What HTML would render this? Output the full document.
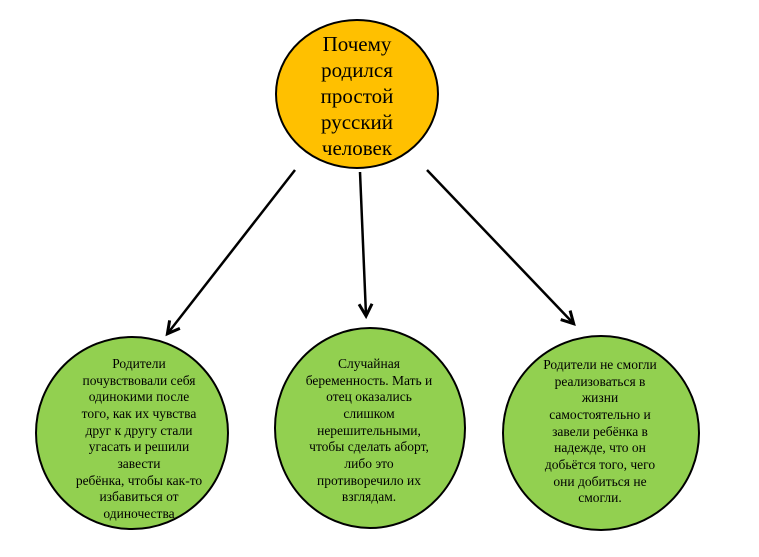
<!DOCTYPE html>
<html><head><meta charset="utf-8"><style>
html,body{margin:0;padding:0;background:#fff;}
svg{display:block;}
text{font-family:"Liberation Serif",serif;fill:#000;}
</style></head><body>
<svg width="759" height="557" viewBox="0 0 759 557" xmlns="http://www.w3.org/2000/svg">
<defs><marker id="a" markerWidth="16" markerHeight="16" refX="12" refY="8" orient="auto" markerUnits="userSpaceOnUse"><path d="M1,1.5 L13,8 L1,14.5" fill="none" stroke="#000" stroke-width="3"/></marker></defs>
<ellipse cx="357" cy="94" rx="81" ry="74" fill="#FFC000" stroke="#000" stroke-width="2"/>
<g font-size="21" text-anchor="middle">
<text x="357" y="51">Почему</text>
<text x="357" y="77">родился</text>
<text x="357" y="103">простой</text>
<text x="357" y="129">русский</text>
<text x="357" y="155">человек</text>
</g>
<line x1="295" y1="170" x2="168" y2="333" stroke="#000" stroke-width="2.5" marker-end="url(#a)"/>
<line x1="360" y1="172" x2="366" y2="315" stroke="#000" stroke-width="2.5" marker-end="url(#a)"/>
<line x1="427" y1="170" x2="573" y2="323" stroke="#000" stroke-width="2.5" marker-end="url(#a)"/>
<ellipse cx="132" cy="433" rx="96" ry="96" fill="#92D050" stroke="#000" stroke-width="2"/>
<ellipse cx="370" cy="428" rx="95" ry="100" fill="#92D050" stroke="#000" stroke-width="2"/>
<ellipse cx="601" cy="433" rx="98" ry="97" fill="#92D050" stroke="#000" stroke-width="2"/>
<g font-size="13.5" text-anchor="middle">
<text x="139" y="368">Родители</text>
<text x="139" y="385">почувствовали себя</text>
<text x="139" y="401">одинокими после</text>
<text x="139" y="418">того, как их чувства</text>
<text x="139" y="435">друг к другу стали</text>
<text x="139" y="451">угасать и решили</text>
<text x="139" y="468">завести</text>
<text x="139" y="485">ребёнка, чтобы как-то</text>
<text x="139" y="501">избавиться от</text>
<text x="139" y="518">одиночества</text>
<text x="369" y="368">Случайная</text>
<text x="369" y="385">беременность. Мать и</text>
<text x="369" y="401">отец оказались</text>
<text x="369" y="418">слишком</text>
<text x="369" y="435">нерешительными,</text>
<text x="369" y="451">чтобы сделать аборт,</text>
<text x="369" y="468">либо это</text>
<text x="369" y="485">противоречило их</text>
<text x="369" y="501">взглядам.</text>
<text x="600" y="369">Родители не смогли</text>
<text x="600" y="386">реализоваться в</text>
<text x="600" y="402">жизни</text>
<text x="600" y="419">самостоятельно и</text>
<text x="600" y="436">завели ребёнка в</text>
<text x="600" y="452">надежде, что он</text>
<text x="600" y="469">добьётся того, чего</text>
<text x="600" y="486">они добиться не</text>
<text x="600" y="502">смогли.</text>
</g>
</svg>
</body></html>
